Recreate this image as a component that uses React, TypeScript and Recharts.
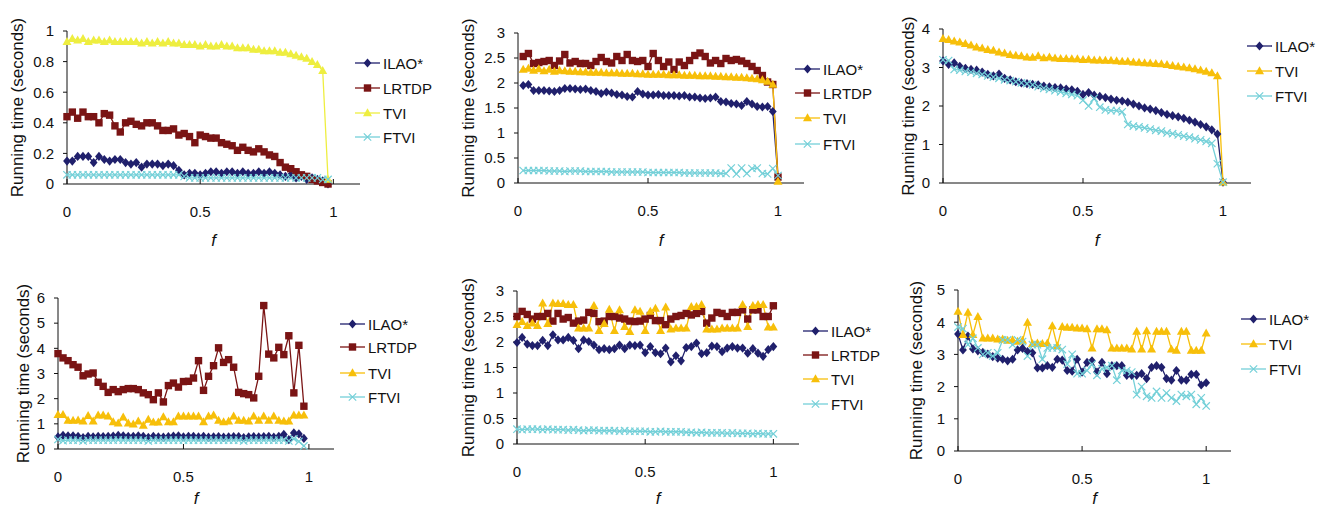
import React from "react";
import { LineChart, Line, XAxis, YAxis } from "recharts";

// f values
const F_START0_END098 = [0, 0.02, 0.04, 0.06, 0.08, 0.1, 0.12, 0.14, 0.16, 0.18, 0.2, 0.22, 0.24, 0.26, 0.28, 0.3, 0.32, 0.34, 0.36, 0.38, 0.4, 0.42, 0.44, 0.46, 0.48, 0.5, 0.52, 0.54, 0.56, 0.58, 0.6, 0.62, 0.64, 0.66, 0.68, 0.7, 0.72, 0.74, 0.76, 0.78, 0.8, 0.82, 0.84, 0.86, 0.88, 0.9, 0.92, 0.94, 0.96, 0.98];
const F_START002_END1 = [0.02, 0.04, 0.06, 0.08, 0.1, 0.12, 0.14, 0.16, 0.18, 0.2, 0.22, 0.24, 0.26, 0.28, 0.3, 0.32, 0.34, 0.36, 0.38, 0.4, 0.42, 0.44, 0.46, 0.48, 0.5, 0.52, 0.54, 0.56, 0.58, 0.6, 0.62, 0.64, 0.66, 0.68, 0.7, 0.72, 0.74, 0.76, 0.78, 0.8, 0.82, 0.84, 0.86, 0.88, 0.9, 0.92, 0.94, 0.96, 0.98, 1];
const F_START0_END1 = [0, 0.02, 0.04, 0.06, 0.08, 0.1, 0.12, 0.14, 0.16, 0.18, 0.2, 0.22, 0.24, 0.26, 0.28, 0.3, 0.32, 0.34, 0.36, 0.38, 0.4, 0.42, 0.44, 0.46, 0.48, 0.5, 0.52, 0.54, 0.56, 0.58, 0.6, 0.62, 0.64, 0.66, 0.68, 0.7, 0.72, 0.74, 0.76, 0.78, 0.8, 0.82, 0.84, 0.86, 0.88, 0.9, 0.92, 0.94, 0.96, 0.98, 1];

// panel 1 (top left)
const p1Ilao = [0.15, 0.15, 0.18, 0.18, 0.18, 0.14, 0.18, 0.16, 0.15, 0.16, 0.16, 0.14, 0.13, 0.14, 0.11, 0.13, 0.13, 0.13, 0.12, 0.13, 0.12, 0.09, 0.06, 0.07, 0.07, 0.06, 0.07, 0.08, 0.08, 0.07, 0.08, 0.08, 0.07, 0.08, 0.07, 0.07, 0.08, 0.07, 0.08, 0.07, 0.06, 0.05, 0.06, 0.04, 0.05, 0.03, 0.04, 0.03, 0.02, 0.0];
const p1Lrtdp = [0.44, 0.47, 0.43, 0.47, 0.44, 0.44, 0.4, 0.46, 0.45, 0.38, 0.34, 0.4, 0.41, 0.39, 0.38, 0.4, 0.4, 0.38, 0.35, 0.35, 0.36, 0.32, 0.33, 0.31, 0.27, 0.32, 0.31, 0.3, 0.3, 0.27, 0.26, 0.25, 0.22, 0.24, 0.22, 0.21, 0.23, 0.21, 0.19, 0.18, 0.14, 0.11, 0.1, 0.08, 0.06, 0.05, 0.03, 0.02, 0.01, 0.0];
const p1Tvi = [0.93, 0.95, 0.94, 0.95, 0.93, 0.94, 0.94, 0.93, 0.94, 0.93, 0.93, 0.93, 0.93, 0.93, 0.92, 0.93, 0.92, 0.93, 0.92, 0.93, 0.92, 0.92, 0.91, 0.91, 0.91, 0.9, 0.91, 0.9, 0.9, 0.91, 0.9, 0.9, 0.89, 0.89, 0.89, 0.88, 0.88, 0.87, 0.87, 0.87, 0.86, 0.86, 0.85, 0.84, 0.83, 0.82, 0.8, 0.78, 0.74, 0.03];
const p1Ftvi = [0.06, 0.06, 0.06, 0.06, 0.06, 0.06, 0.06, 0.06, 0.06, 0.06, 0.06, 0.06, 0.06, 0.06, 0.06, 0.06, 0.06, 0.06, 0.06, 0.06, 0.06, 0.06, 0.05, 0.04, 0.04, 0.04, 0.04, 0.04, 0.04, 0.04, 0.04, 0.04, 0.04, 0.04, 0.04, 0.04, 0.04, 0.04, 0.04, 0.04, 0.04, 0.04, 0.04, 0.04, 0.04, 0.04, 0.04, 0.04, 0.03, 0.03];

// panel 2 (top middle)
const p2Ilao = [1.95, 1.97, 1.85, 1.85, 1.85, 1.84, 1.83, 1.85, 1.89, 1.89, 1.88, 1.87, 1.88, 1.85, 1.83, 1.79, 1.82, 1.8, 1.77, 1.76, 1.73, 1.72, 1.83, 1.78, 1.76, 1.76, 1.77, 1.75, 1.75, 1.75, 1.74, 1.75, 1.72, 1.72, 1.7, 1.69, 1.7, 1.72, 1.63, 1.62, 1.59, 1.58, 1.55, 1.63, 1.58, 1.53, 1.52, 1.53, 1.43, 0.1];
const p2Lrtdp = [2.53, 2.59, 2.39, 2.41, 2.43, 2.45, 2.35, 2.44, 2.57, 2.4, 2.43, 2.39, 2.39, 2.35, 2.43, 2.51, 2.43, 2.4, 2.53, 2.45, 2.57, 2.45, 2.43, 2.45, 2.33, 2.59, 2.45, 2.33, 2.42, 2.27, 2.42, 2.35, 2.45, 2.55, 2.6, 2.53, 2.4, 2.45, 2.39, 2.49, 2.45, 2.47, 2.44, 2.39, 2.33, 2.25, 2.15, 2.02, 1.97, 0.12];
const p2Tvi = [2.27, 2.29, 2.25, 2.28, 2.24, 2.27, 2.23, 2.25, 2.24, 2.23, 2.23, 2.22, 2.22, 2.21, 2.21, 2.21, 2.2, 2.2, 2.2, 2.19, 2.19, 2.19, 2.18, 2.18, 2.17, 2.17, 2.17, 2.17, 2.16, 2.16, 2.16, 2.15, 2.15, 2.15, 2.14, 2.14, 2.14, 2.13, 2.13, 2.12, 2.12, 2.11, 2.11, 2.1, 2.09, 2.08, 2.06, 2.03, 1.97, 0.03];
const p2Ftvi = [0.25, 0.25, 0.25, 0.25, 0.25, 0.24, 0.24, 0.24, 0.23, 0.24, 0.24, 0.24, 0.23, 0.23, 0.23, 0.23, 0.23, 0.22, 0.22, 0.22, 0.22, 0.22, 0.22, 0.22, 0.21, 0.21, 0.21, 0.21, 0.21, 0.21, 0.21, 0.2, 0.2, 0.2, 0.2, 0.2, 0.2, 0.2, 0.19, 0.19, 0.3, 0.18, 0.3, 0.19, 0.29, 0.3, 0.19, 0.18, 0.29, 0.15];

// panel 3 (top right)
const p3Ilao = [3.17, 3.08, 3.12, 3.03, 2.98, 2.95, 2.93, 2.88, 2.82, 2.78, 2.83, 2.72, 2.68, 2.63, 2.6, 2.58, 2.56, 2.55, 2.52, 2.5, 2.48, 2.47, 2.44, 2.42, 2.38, 2.3, 2.35, 2.28, 2.25, 2.22, 2.18, 2.15, 2.13, 2.1, 2.05, 2.0, 1.95, 1.92, 1.88, 1.83, 1.78, 1.75, 1.72, 1.68, 1.63, 1.58, 1.52, 1.46, 1.38, 1.27, 0.02];
const p3Tvi = [3.75, 3.72, 3.68, 3.66, 3.62, 3.58, 3.53, 3.5, 3.46, 3.44, 3.4, 3.37, 3.33, 3.31, 3.3, 3.27, 3.26, 3.3, 3.25, 3.27, 3.24, 3.23, 3.23, 3.22, 3.22, 3.2, 3.21, 3.19, 3.19, 3.18, 3.18, 3.17, 3.16, 3.16, 3.14, 3.13, 3.12, 3.11, 3.1, 3.09, 3.07, 3.05, 3.03, 3.01, 2.99, 2.96, 2.93, 2.9, 2.86, 2.78, 0.02];
const p3Ftvi = [3.2, 3.18, 2.95, 2.93, 2.9, 2.88, 2.85, 2.82, 2.78, 2.75, 2.72, 2.68, 2.66, 2.63, 2.6, 2.58, 2.55, 2.5, 2.46, 2.43, 2.4, 2.37, 2.33, 2.3, 2.27, 2.15, 2.0, 2.2, 1.97, 1.9, 1.88, 1.88, 1.85, 1.52, 1.48, 1.46, 1.43, 1.4, 1.37, 1.35, 1.3, 1.28, 1.25, 1.22, 1.19, 1.15, 1.12, 1.08, 1.03, 0.5, 0.02];

// panel 4 (bottom left)
const p4Ilao = [0.48, 0.54, 0.52, 0.52, 0.5, 0.45, 0.5, 0.48, 0.5, 0.49, 0.5, 0.51, 0.54, 0.52, 0.5, 0.5, 0.52, 0.5, 0.46, 0.5, 0.48, 0.47, 0.49, 0.51, 0.52, 0.48, 0.5, 0.5, 0.48, 0.5, 0.47, 0.48, 0.49, 0.47, 0.48, 0.49, 0.49, 0.45, 0.48, 0.49, 0.48, 0.49, 0.5, 0.47, 0.5, 0.58, 0.37, 0.64, 0.6, 0.42];
const p4Lrtdp = [3.79, 3.62, 3.51, 3.35, 3.25, 2.91, 2.98, 3.02, 2.65, 2.49, 2.25, 2.36, 2.28, 2.36, 2.4, 2.4, 2.36, 2.23, 2.16, 1.96, 2.23, 1.87, 2.52, 2.62, 2.46, 2.68, 2.69, 2.82, 3.51, 2.33, 2.89, 3.31, 4.02, 3.44, 3.55, 3.25, 2.25, 2.2, 2.16, 2.03, 2.89, 5.7, 3.77, 3.62, 4.04, 3.75, 4.5, 2.23, 4.12, 1.7];
const p4Tvi = [1.36, 1.36, 1.13, 1.13, 1.14, 1.1, 1.32, 1.1, 1.34, 1.34, 1.3, 1.07, 1.03, 1.26, 1.03, 0.99, 1.1, 0.94, 1.17, 1.06, 1.06, 1.27, 1.07, 1.07, 1.3, 1.3, 1.3, 1.3, 1.3, 1.07, 1.3, 1.34, 1.13, 1.07, 1.1, 1.3, 1.13, 1.13, 1.1, 1.3, 1.13, 1.3, 1.13, 1.3, 1.13, 1.1, 1.1, 1.34, 1.34, 1.34];
const p4Ftvi = [0.38, 0.33, 0.35, 0.35, 0.35, 0.32, 0.35, 0.35, 0.35, 0.35, 0.35, 0.35, 0.36, 0.35, 0.35, 0.35, 0.35, 0.35, 0.32, 0.35, 0.35, 0.35, 0.35, 0.35, 0.35, 0.35, 0.35, 0.35, 0.35, 0.35, 0.35, 0.35, 0.35, 0.35, 0.35, 0.35, 0.35, 0.32, 0.35, 0.35, 0.35, 0.35, 0.35, 0.35, 0.35, 0.35, 0.32, 0.4, 0.3, 0.12];

// panel 5 (bottom middle)
const p5Ilao = [1.99, 2.09, 1.96, 1.93, 1.93, 2.03, 1.93, 2.14, 2.04, 2.04, 2.09, 2.03, 1.87, 2.04, 2.01, 1.94, 1.85, 1.87, 1.85, 1.87, 1.94, 1.87, 1.94, 1.93, 1.94, 1.79, 1.91, 1.79, 1.77, 1.88, 1.61, 1.73, 1.63, 1.89, 1.91, 1.98, 1.77, 1.79, 1.92, 1.91, 1.81, 1.88, 1.91, 1.88, 1.88, 1.78, 1.87, 1.78, 1.72, 1.85, 1.91];
const p5Lrtdp = [2.5, 2.6, 2.54, 2.45, 2.5, 2.5, 2.56, 2.41, 2.56, 2.45, 2.48, 2.37, 2.41, 2.43, 2.58, 2.56, 2.4, 2.41, 2.5, 2.5, 2.47, 2.45, 2.41, 2.4, 2.41, 2.45, 2.52, 2.42, 2.42, 2.34, 2.45, 2.5, 2.52, 2.56, 2.53, 2.56, 2.6, 2.37, 2.47, 2.58, 2.56, 2.5, 2.58, 2.58, 2.63, 2.45, 2.63, 2.63, 2.5, 2.5, 2.71];
const p5Tvi = [2.34, 2.4, 2.32, 2.37, 2.32, 2.76, 2.36, 2.76, 2.75, 2.75, 2.73, 2.73, 2.27, 2.27, 2.27, 2.71, 2.22, 2.36, 2.64, 2.22, 2.63, 2.3, 2.2, 2.63, 2.6, 2.22, 2.6, 2.66, 2.22, 2.68, 2.25, 2.27, 2.27, 2.27, 2.69, 2.69, 2.73, 2.25, 2.25, 2.25, 2.27, 2.27, 2.27, 2.27, 2.73, 2.3, 2.71, 2.73, 2.73, 2.29, 2.29];
const p5Ftvi = [0.29, 0.28, 0.29, 0.29, 0.29, 0.28, 0.29, 0.28, 0.28, 0.28, 0.27, 0.28, 0.27, 0.26, 0.27, 0.27, 0.26, 0.26, 0.26, 0.26, 0.25, 0.26, 0.25, 0.25, 0.25, 0.25, 0.24, 0.24, 0.25, 0.24, 0.24, 0.24, 0.24, 0.23, 0.23, 0.22, 0.23, 0.22, 0.22, 0.22, 0.22, 0.21, 0.22, 0.21, 0.21, 0.21, 0.2, 0.21, 0.2, 0.2, 0.2];

// panel 6 (bottom right)
const p6Ilao = [3.63, 3.14, 3.57, 3.17, 3.11, 3.06, 3.01, 2.93, 2.88, 2.85, 2.8, 2.85, 3.14, 3.19, 3.09, 3.05, 2.58, 2.58, 2.65, 2.6, 2.85, 2.82, 2.5, 2.48, 2.85, 2.45, 2.75, 2.8, 2.45, 2.75, 2.4, 2.65, 2.65, 2.65, 2.35, 2.35, 2.35, 2.4, 2.25, 2.6, 2.65, 2.6, 2.25, 2.2, 2.5, 2.2, 2.2, 2.38, 2.38, 2.05, 2.12];
const p6Tvi = [4.33, 3.61, 4.3, 3.61, 4.17, 3.5, 3.5, 3.5, 3.47, 3.47, 3.43, 3.45, 3.4, 3.43, 3.99, 3.33, 3.35, 3.33, 3.35, 3.88, 3.26, 3.86, 3.84, 3.84, 3.81, 3.81, 3.79, 3.19, 3.79, 3.79, 3.76, 3.19, 3.19, 3.19, 3.19, 3.16, 3.71, 3.16, 3.73, 3.16, 3.71, 3.71, 3.71, 3.16, 3.12, 3.71, 3.71, 3.12, 3.12, 3.12, 3.66];
const p6Ftvi = [3.85, 3.8, 3.3, 3.5, 3.2, 3.0, 3.05, 2.95, 3.05, 3.45, 3.45, 3.3, 3.45, 3.4, 2.95, 3.3, 3.3, 2.85, 3.2, 3.2, 3.2, 3.15, 2.7, 3.0, 2.4, 2.4, 2.5, 2.7, 2.35, 2.55, 2.6, 2.65, 2.2, 2.5, 2.5, 2.45, 1.75, 2.0, 1.7, 1.65, 1.85, 1.65, 1.8, 1.65, 1.55, 1.75, 1.7, 1.75, 1.45, 1.65, 1.4];

const Y_TICKS_1 = [0, 0.2, 0.4, 0.6, 0.8, 1];
const Y_TICKS_3 = [0, 0.5, 1, 1.5, 2, 2.5, 3];
const Y_TICKS_4 = [0, 1, 2, 3, 4];
const Y_TICKS_5 = [0, 1, 2, 3, 4, 5];
const Y_TICKS_6 = [0, 1, 2, 3, 4, 5, 6];
const X_TICKS = [0, 0.5, 1];

const NAVY = "#20206c";
const MAROON = "#7a1414";
const GOLD = "#f7bf0a";
const LEMON = "#eeee40";
const CYAN = "#74d0d8";

type Shape = "diamond" | "square" | "triangle" | "cross";

type Series = { key: string; name: string; shape: Shape; color: string; values: number[] };

function Marker({ cx, cy, shape, color }: { cx?: number; cy?: number; shape: Shape; color: string }) {
  if (cx == null || cy == null || isNaN(cx) || isNaN(cy)) return null;
  if (shape === "diamond") {
    return <path d={`M${cx},${cy - 4.6}L${cx + 3.9},${cy}L${cx},${cy + 4.6}L${cx - 3.9},${cy}Z`} fill={color} />;
  }
  if (shape === "square") {
    return <rect x={cx - 3.7} y={cy - 3.7} width={7.4} height={7.4} fill={color} />;
  }
  if (shape === "triangle") {
    return <path d={`M${cx},${cy - 4.7}L${cx + 4.5},${cy + 3.3}L${cx - 4.5},${cy + 3.3}Z`} fill={color} />;
  }
  return (
    <path
      d={`M${cx - 3.7},${cy - 3.7}L${cx + 3.7},${cy + 3.7}M${cx - 3.7},${cy + 3.7}L${cx + 3.7},${cy - 3.7}`}
      stroke={color}
      strokeWidth={1.2}
      fill="none"
    />
  );
}

function ilao(values: number[]): Series {
  return { key: "ilao", name: "ILAO*", shape: "diamond", color: NAVY, values };
}
function lrtdp(values: number[]): Series {
  return { key: "lrtdp", name: "LRTDP", shape: "square", color: MAROON, values };
}
function tvi(values: number[], color = GOLD): Series {
  return { key: "tvi", name: "TVI", shape: "triangle", color, values };
}
function ftvi(values: number[]): Series {
  return { key: "ftvi", name: "FTVI", shape: "cross", color: CYAN, values };
}

type PanelCfg = {
  left: number;
  top: number;
  width: number;
  height: number;
  yWidth: number;
  right: number;
  plotTop: number;
  xHeight: number;
  yMax: number;
  yTicks: number[];
  yLabelX: number;
  f: number[];
  series: Series[];
  legendX: number;
  legendYs: number[];
};

const panels: PanelCfg[] = [
  {
    left: 0, top: 0, width: 440, height: 250, yWidth: 67, right: 80, plotTop: 31, xHeight: 66,
    yMax: 1, yTicks: Y_TICKS_1, yLabelX: 17, f: F_START0_END098,
    series: [ilao(p1Ilao), lrtdp(p1Lrtdp), tvi(p1Tvi, LEMON), ftvi(p1Ftvi)],
    legendX: 355, legendYs: [63, 88, 113, 137],
  },
  {
    left: 440, top: 0, width: 440, height: 250, yWidth: 78, right: 76, plotTop: 33, xHeight: 67,
    yMax: 3, yTicks: Y_TICKS_3, yLabelX: 28, f: F_START002_END1,
    series: [ilao(p2Ilao), lrtdp(p2Lrtdp), tvi(p2Tvi), ftvi(p2Ftvi)],
    legendX: 795, legendYs: [69, 93, 118, 144],
  },
  {
    left: 880, top: 0, width: 445, height: 250, yWidth: 63, right: 74, plotTop: 29, xHeight: 67,
    yMax: 4, yTicks: Y_TICKS_4, yLabelX: 28, f: F_START0_END1,
    series: [ilao(p3Ilao), tvi(p3Tvi), ftvi(p3Ftvi)],
    legendX: 1247, legendYs: [46, 71, 96],
  },
  {
    left: 0, top: 250, width: 440, height: 258, yWidth: 58, right: 106, plotTop: 48, xHeight: 59,
    yMax: 6, yTicks: Y_TICKS_6, yLabelX: 23, f: F_START0_END098,
    series: [ilao(p4Ilao), lrtdp(p4Lrtdp), tvi(p4Tvi), ftvi(p4Ftvi)],
    legendX: 340, legendYs: [324, 347, 373, 397],
  },
  {
    left: 440, top: 250, width: 440, height: 258, yWidth: 77, right: 81, plotTop: 41, xHeight: 64,
    yMax: 3, yTicks: Y_TICKS_3, yLabelX: 28, f: F_START0_END1,
    series: [ilao(p5Ilao), lrtdp(p5Lrtdp), tvi(p5Tvi), ftvi(p5Ftvi)],
    legendX: 803, legendYs: [331, 355, 379, 404],
  },
  {
    left: 880, top: 250, width: 445, height: 258, yWidth: 78, right: 94, plotTop: 40, xHeight: 57,
    yMax: 5, yTicks: Y_TICKS_5, yLabelX: 36, f: F_START0_END1,
    series: [ilao(p6Ilao), tvi(p6Tvi), ftvi(p6Ftvi)],
    legendX: 1241, legendYs: [319, 344, 369],
  },
];

function Panel({ cfg }: { cfg: PanelCfg }) {
  const rows = cfg.f.map((f, i) => {
    const row: Record<string, number> = { f };
    cfg.series.forEach((s) => {
      row[s.key] = s.values[i];
    });
    return row;
  });

  return (
    <div style={{ position: "absolute", left: cfg.left, top: cfg.top }}>
      <LineChart
        width={cfg.width}
        height={cfg.height}
        data={rows}
        margin={{ top: cfg.plotTop, right: cfg.right, left: 0, bottom: 0 }}
      >
        <XAxis
          type="number"
          dataKey="f"
          domain={[0, 1.1]}
          ticks={X_TICKS}
          height={cfg.xHeight}
          stroke="#111"
          tickSize={-5}
          tickMargin={27}
          tick={{ fill: "#111", fontSize: 15 }}
          label={{ value: "f", position: "insideBottom", offset: 4, style: { fontStyle: "italic", fontSize: 17, fill: "#111" } }}
        />
        <YAxis
          type="number"
          domain={[0, cfg.yMax]}
          ticks={cfg.yTicks}
          width={cfg.yWidth}
          stroke="#111"
          tickSize={4}
          tickMargin={9}
          tick={{ fill: "#111", fontSize: 15 }}
          label={{
            value: "Running time (seconds)",
            angle: -90,
            position: "insideLeft",
            offset: cfg.yLabelX,
            style: { textAnchor: "middle", fontSize: 17, fill: "#111" },
          }}
        />
        {cfg.series.map((s) => (
          <Line
            key={s.key}
            type="linear"
            dataKey={s.key}
            name={s.name}
            stroke={s.color}
            strokeWidth={1.3}
            isAnimationActive={false}
            dot={(p: any) => <Marker key={`${s.key}-${p.index}`} cx={p.cx} cy={p.cy} shape={s.shape} color={s.color} />}
            activeDot={false}
          />
        ))}
      </LineChart>
    </div>
  );
}

function LegendBox({ cfg }: { cfg: PanelCfg }) {
  const top = cfg.legendYs[0] - 14;
  return (
    <svg
      style={{ position: "absolute", left: cfg.legendX, top }}
      width={90}
      height={cfg.legendYs[cfg.legendYs.length - 1] - top + 14}
    >
      {cfg.series.map((s, i) => {
        const y = cfg.legendYs[i] - top;
        return (
          <g key={s.key}>
            <line x1={0} x2={25} y1={y} y2={y} stroke={s.color} strokeWidth={1.3} />
            <Marker cx={12.5} cy={y} shape={s.shape} color={s.color} />
            <text x={28} y={y} dominantBaseline="central" fontSize={15} fill="#111">
              {s.name}
            </text>
          </g>
        );
      })}
    </svg>
  );
}

export default function App() {
  return (
    <div
      style={{
        position: "absolute",
        left: 0,
        top: 0,
        width: 1325,
        height: 508,
        background: "#fff",
        fontFamily: "'Liberation Sans', Arial, sans-serif",
      }}
    >
      {panels.map((cfg, i) => (
        <Panel key={`p${i}`} cfg={cfg} />
      ))}
      {panels.map((cfg, i) => (
        <LegendBox key={`l${i}`} cfg={cfg} />
      ))}
    </div>
  );
}
